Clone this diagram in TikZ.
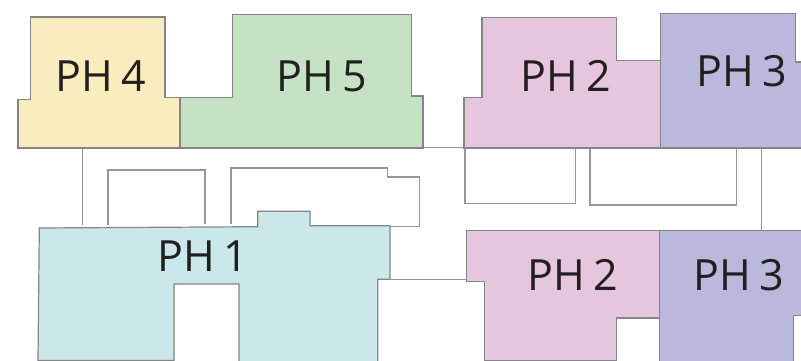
\documentclass[tikz,border=0pt]{standalone}
\usepackage{fontspec}
\setmainfont[WordSpace=0.75]{Open Sans}
\usepackage{xcolor}
\definecolor{phyellow}{HTML}{F9EDBD}
\definecolor{phgreen}{HTML}{C5E3C4}
\definecolor{phpink}{HTML}{E6C5DF}
\definecolor{phpurple}{HTML}{BAB8DC}
\definecolor{phcyan}{HTML}{CAE8EA}
\definecolor{wallgray}{HTML}{858585}
\definecolor{labelink}{HTML}{231F20}

\begin{document}
\begin{tikzpicture}[x=1pt, y=-1pt]
\tikzstyle{flat} = [draw=wallgray, line width=1.2pt, line join=miter]
\tikzstyle{wall} = [draw=wallgray!85, line width=1.2pt]
\tikzstyle{phlabel} = [text=labelink, inner sep=0pt, font=\fontsize{43}{43}\selectfont]

\useasboundingbox (0,0) rectangle (801,361);
\clip (0,0) rectangle (801,361);

% plain walls between the flats
\draw [wall] (82.7,148) -- (82.7,225);
\draw [wall] (108,225) -- (108,170) -- (205,170) -- (205,223.5);
\draw [wall] (231,223.5) -- (231,168) -- (387.5,168) -- (387.5,177) -- (419.5,177) -- (419.5,226.5) -- (390,226.5);
\draw [wall] (377.7,279.8) -- (466.7,279.8);
\draw [wall] (423,147.6) -- (464,147.6);
\draw [wall] (465,148) rectangle (575.3,203.7);
\draw [wall] (590,148) rectangle (736.7,205);
\draw [wall] (761.7,148) -- (761.7,230.3);

% flats
\draw [flat, fill=phyellow] (30.5,17) -- (165,17) -- (165,97.5) -- (180,97.5) -- (180,148) -- (18,148) -- (18,99.5) -- (30.5,99.5) -- cycle;
\draw [flat, fill=phgreen] (180,97.5) -- (232.5,97.5) -- (232.5,14.5) -- (411.5,14.5) -- (411.5,96) -- (423,96) -- (423,148) -- (180,148) -- cycle;
\draw [flat, fill=phpink] (482,17.7) -- (616.7,17.7) -- (616.7,60.7) -- (660.3,60.7) -- (660.3,148) -- (464,148) -- (464,97.7) -- (482,97.7) -- cycle;
\draw [flat, fill=phpurple] (660.3,13.7) -- (795.3,13.7) -- (795.3,62) -- (805,62) -- (805,148) -- (660.3,148) -- cycle;
\draw [flat, fill=phcyan] (39.3,228) -- (257.7,226.7) -- (257.7,211.3) -- (310,211.3) -- (310,225.7) -- (390,225.7) -- (390,279.3) -- (377.7,279.3) -- (377.7,365) -- (239,365) -- (239,284) -- (174,284) -- (174,360.5) -- (38,360.5) -- cycle;
\draw [flat, fill=phpink] (466.7,230.3) -- (659.3,230.3) -- (659.3,318) -- (616.7,318) -- (616.7,360.5) -- (484.3,360.5) -- (484.3,281.7) -- (466.7,281.7) -- cycle;
\draw [flat, fill=phpurple] (659.3,230.3) -- (805,230.3) -- (805,315.5) -- (793.7,315.5) -- (793.7,365) -- (659.3,365) -- cycle;

% labels
\node [phlabel] (ph4) at (101,76) {PH 4};
\node [phlabel] (ph5) at (322,76) {PH 5};
\node [phlabel] (ph1) at (203,256) {PH 1};
\node [phlabel] (ph2top) at (565.8,76) {PH 2};
\node [phlabel] (ph3top) at (742,71) {PH 3};
\node [phlabel] (ph2low) at (573,275) {PH 2};
\node [phlabel] (ph3low) at (738.7,275) {PH 3};
\end{tikzpicture}
\end{document}
